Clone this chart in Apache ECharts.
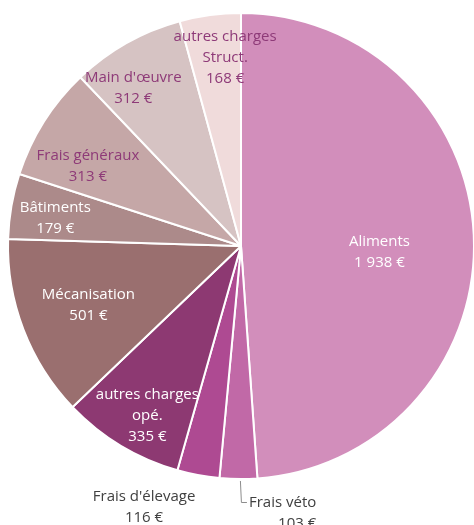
<!DOCTYPE html>
<html>
<head>
<meta charset="utf-8">
<script src="https://cdn.jsdelivr.net/npm/echarts@6/dist/echarts.min.js"></script>
<style>html,body{margin:0;padding:0;background:#fff;}#c{width:474px;height:525px;}</style>
</head>
<body>
<div id="c"></div>
<script>
const categories = ['Aliments', 'Frais véto', "Frais d'élevage", 'autres charges opé.', 'Mécanisation', 'Bâtiments', 'Frais généraux', "Main d'œuvre", 'autres charges Struct.'];
const labelNames = ['Aliments', 'Frais véto', "Frais d'élevage", 'autres charges\nopé.', 'Mécanisation', 'Bâtiments', 'Frais généraux', "Main d'œuvre", 'autres charges\nStruct.'];
const values = [1938, 103, 116, 335, 501, 179, 313, 312, 168];
const colors = ['#D28EBB', '#C169A7', '#AE4A92', '#8D3972', '#9A6F6F', '#AC8A8A', '#C5A7A7', '#D6C3C3', '#F0DBDB'];
const labelColors = ['#ffffff', '#404040', '#404040', '#ffffff', '#ffffff', '#ffffff', '#8E3A78', '#8E3A78', '#8E3A78'];
const outside = [false, true, false, false, false, false, false, false, false];
const labelShift = [[19, 10], [89, 20], [-75, 144], [-32, 67], [-41, 16], [-68, -7], [-52, -16], [-49, -54], [0, -70]];

function fmt(v) {
  return String(v).replace(/\B(?=(\d{3})+(?!\d))/g, '\u00a0');
}

const data = categories.map((n, i) => ({
  name: n,
  value: values[i],
  itemStyle: { color: colors[i] },
  label: {
    position: outside[i] ? 'outside' : 'inside',
    color: labelColors[i],
    formatter: labelNames[i] + '\n' + fmt(values[i]) + ' €'
  },
  labelLine: { show: i === 1, length: 14, length2: 6, lineStyle: { color: '#8c8c8c', width: 1 } }
}));

const chart = echarts.init(document.getElementById('c'), null, { renderer: 'canvas' });
chart.setOption({
  animation: false,
  series: [{
    type: 'pie',
    center: [241, 246],
    radius: [0, 233],
    startAngle: 90,
    clockwise: true,
    avoidLabelOverlap: false,
    itemStyle: { borderColor: '#ffffff', borderWidth: 2 },
    label: {
      fontFamily: 'Open Sans',
      fontSize: 15,
      lineHeight: 21,
      align: 'center'
    },
    labelLayout: function (p) {
      const s = labelShift[p.dataIndex];
      const res = { dx: s[0], dy: s[1] };
      if (outside[p.dataIndex] && p.labelLinePoints && p.labelRect) {
        const r = p.labelRect;
        const p0 = p.labelLinePoints[0];
        const yMid = r.y + s[1] + 10.5;
        const xLeft = r.x + s[0] - 2;
        res.labelLinePoints = [[p0[0] + 2, p0[1] + 2], [p0[0] + 3, yMid], [xLeft, yMid]];
      }
      return res;
    },
    emphasis: { disabled: true },
    data: data
  }]
});
</script>
</body>
</html>
